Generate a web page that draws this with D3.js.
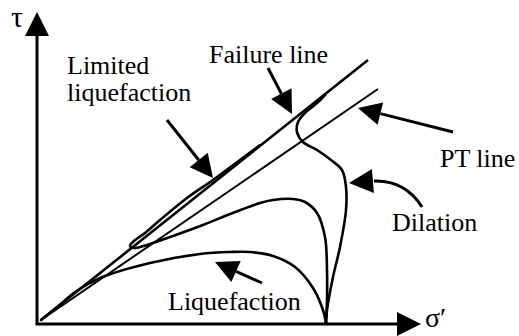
<!DOCTYPE html>
<html>
<head>
<meta charset="utf-8">
<script src="https://cdn.jsdelivr.net/npm/d3@7"></script>
<style>
  html, body { margin: 0; padding: 0; background: #fff; }
  svg { display: block; }
</style>
</head>
<body>
<svg id="chart" width="519" height="336"></svg>
<script>
// ---- data (σ′, τ in arbitrary schematic units) ----
const axisLabels = ["τ", "σ′"];
const lineNames = ["Failure line", "PT line"];
const pathNames = ["Limited liquefaction", "Liquefaction", "Dilation"];

const failureLine = [[0.4, 0.4], [33.1, 26.4]];
const ptLine = [[0.4, 0.4], [34.1, 23.5]];

const liquefactionPath = [
  [28.9, 0.1], [28.6, 1.4], [27.6, 3.6], [25.8, 5.7], [23.6, 6.8], [21.3, 7.2],
  [19.3, 7.2], [16.3, 7.0], [11.3, 6.1], [6.3, 4.6], [3.8, 3.2], [2.5, 2.1], [0.4, 0.4]
];
const limitedPath = [
  [28.9, 0.1], [29.0, 2.4], [29.0, 5.4], [28.8, 8.7], [28.0, 11.1], [26.8, 12.2],
  [25.6, 12.5], [23.6, 12.4], [22.3, 12.1], [19.3, 11.0], [16.6, 9.9], [13.3, 8.7],
  [11.0, 7.9], [9.8, 7.6], [9.3, 7.8], [9.7, 8.3], [10.8, 9.1], [12.3, 10.4],
  [15.0, 12.6], [17.6, 14.4], [20.3, 16.4], [22.3, 17.9]
];
const dilationPath = [
  [28.9, 0.1], [29.0, 1.4], [29.6, 4.7], [30.3, 7.7], [30.9, 11.4], [30.9, 13.7],
  [30.5, 15.4], [29.4, 16.4], [28.0, 17.4], [26.6, 18.2], [26.0, 19.2], [26.1, 20.2],
  [26.8, 21.1], [28.0, 22.1], [28.8, 22.9]
];

// annotation arrows: [from, to]
const arrowLimited = [[13.0, 20.4], [17.6, 14.6]];
const arrowFailure = [[23.1, 25.6], [25.5, 21.0]];
const arrowPT = [[41.6, 19.2], [32.1, 21.6]];
const arrowLiquefaction = [[22.5, 4.1], [17.8, 6.2]];
const arrowDilation = [[38.5, 11.7], [36.8, 14.4], [33.6, 14.3], [31.2, 14.1]]; // start, control, head base, tip

// ---- drawing ----
const svg = d3.select("#chart");
const x = d3.scaleLinear().domain([0, 38.4]).range([37, 421]);
const y = d3.scaleLinear().domain([0, 31.2]).range([324, 12]);

const straight = d3.line().x(d => x(d[0])).y(d => y(d[1]));
const smooth = d3.line().x(d => x(d[0])).y(d => y(d[1])).curve(d3.curveCatmullRom.alpha(0.5));

function head(tipPx, dir, len, half) {
  const n = Math.hypot(dir[0], dir[1]);
  const ux = dir[0] / n, uy = dir[1] / n;
  const bx = tipPx[0] - ux * len, by = tipPx[1] - uy * len;
  const px = -uy, py = ux;
  svg.append("polygon")
    .attr("points", [[tipPx[0], tipPx[1]], [bx + px * half, by + py * half], [bx - px * half, by - py * half]].map(p => p.join(",")).join(" "))
    .attr("fill", "#000");
  return [bx, by];
}

// axes
const axisG = svg.append("g");
axisG.append("line").attr("x1", x(0)).attr("y1", y(0)).attr("x2", x(0)).attr("y2", y(29.5))
  .attr("stroke", "#000").attr("stroke-width", 3);
axisG.append("line").attr("x1", x(0) - 1.5).attr("y1", y(0)).attr("x2", x(36.5)).attr("y2", y(0))
  .attr("stroke", "#000").attr("stroke-width", 3);
head([x(0), y(31.2)], [0, -1], 24, 12);
head([x(38.4), y(0)], [1, 0], 24, 12);

// failure & PT lines
svg.append("path").attr("d", straight(failureLine)).attr("fill", "none").attr("stroke", "#000").attr("stroke-width", 2.6);
svg.append("path").attr("d", straight(ptLine)).attr("fill", "none").attr("stroke", "#000").attr("stroke-width", 2);

// stress paths
[liquefactionPath, limitedPath, dilationPath].forEach(p => {
  svg.append("path").attr("d", smooth(p)).attr("fill", "none").attr("stroke", "#000")
    .attr("stroke-width", 2.6).attr("stroke-linejoin", "round").attr("stroke-linecap", "round");
});

// straight annotation arrows
[arrowLimited, arrowFailure, arrowPT, arrowLiquefaction].forEach(a => {
  const s = [x(a[0][0]), y(a[0][1])], t = [x(a[1][0]), y(a[1][1])];
  const base = head(t, [t[0] - s[0], t[1] - s[1]], 23, 11.5);
  svg.append("line").attr("x1", s[0]).attr("y1", s[1]).attr("x2", base[0]).attr("y2", base[1])
    .attr("stroke", "#000").attr("stroke-width", 3);
});

// curved dilation arrow
{
  const p = arrowDilation.map(d => [x(d[0]), y(d[1])]);
  const base = head(p[3], [p[3][0] - p[2][0], p[3][1] - p[2][1]], 24, 12);
  const pth = d3.path();
  pth.moveTo(p[0][0], p[0][1]);
  pth.quadraticCurveTo(p[1][0], p[1][1], base[0] + 1, base[1]);
  svg.append("path").attr("d", pth.toString()).attr("fill", "none").attr("stroke", "#000").attr("stroke-width", 3);
}

// text labels
const txt = (s, px, py, size) => svg.append("text").attr("x", px).attr("y", py)
  .style("font-family", '"Liberation Serif", "DejaVu Serif", "Noto Serif", serif')
  .style("font-size", (size || 26) + "px").attr("fill", "#000").text(s);
txt(axisLabels[0], x(-2.6), y(29.7), 30);
txt(axisLabels[1], x(38.8), y(-0.3), 28);
txt(lineNames[0], x(17.2), y(26.1));
txt(lineNames[1], x(40.3), y(15.7));
txt("Limited", x(3.0), y(25.0));
txt("liquefaction", x(3.0), y(22.3));
txt(pathNames[1], x(13.1), y(1.4));
txt(pathNames[2], x(35.5), y(9.3));
</script>
</body>
</html>
